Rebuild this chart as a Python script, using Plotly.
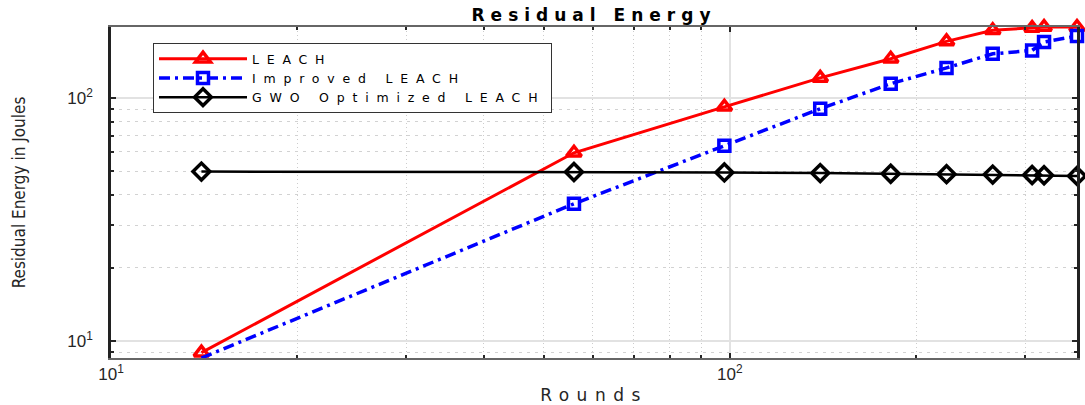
import numpy as np
import plotly.graph_objects as go

# ---- data ----
rounds = [14, 56, 98, 140, 182, 224, 266, 308, 322, 364]
leach = [8.95, 59.5, 92, 121, 145, 171, 190, 194, 196, 196]
improved_leach = [8.51, 36.7, 63.6, 90.3, 114.5, 133, 152, 157, 170, 180]
gwo_leach = [49.8, 49.6, 49.4, 49.1, 48.8, 48.6, 48.4, 48.2, 48.1, 47.8]
series_names = ["LEACH", "Improved LEACH", "GWO Optimized LEACH"]

x_major = [10, 100]
x_major_text = ["10<sup>1</sup>", "10<sup>2</sup>"]
x_minor = [20, 30, 40, 50, 60, 70, 80, 90, 200, 300]
y_major = [10, 100]
y_major_text = ["10<sup>1</sup>", "10<sup>2</sup>"]
y_minor = [9, 20, 30, 40, 50, 60, 70, 80, 90]

title_text = "Residual Energy"
x_title = "Rounds"
y_title = "Residual Energy in Joules"


def spaced(t, px):
    return f"<span style='letter-spacing:{px}px'>{t}</span>"


W, H = 1085, 405
fig = go.Figure()

styles = [
    dict(color="#ff0000", symbol="triangle-up-open", dash="solid", width=3, size=13),
    dict(color="#0000ff", symbol="square-open", dash="11px,5px,3px,5px", width=3.5, size=11),
    dict(color="#000000", symbol="diamond-open", dash="solid", width=2.5, size=13),
]

for name, yv, st in zip(series_names, [leach, improved_leach, gwo_leach], styles):
    fig.add_trace(go.Scatter(
        x=rounds, y=yv, mode="lines+markers", name=spaced(name, 7.8),
        line=dict(color=st["color"], width=st["width"], dash=st["dash"]),
        marker=dict(symbol=st["symbol"], size=st["size"], color=st["color"],
                    line=dict(color=st["color"], width=3.5)),
        cliponaxis=False,
    ))

axis_font = dict(family="Liberation Sans, Arial, sans-serif", size=17, color="#262626")

fig.update_xaxes(
    type="log", range=[np.log10(10), np.log10(364)],
    tickmode="array", tickvals=x_major, ticktext=x_major_text,
    tickfont=axis_font,
    ticks="inside", ticklen=5, tickwidth=1.5, tickcolor="#262626",
    showline=True, linecolor="#666666", linewidth=1.5, mirror="ticks",
    showgrid=True, gridcolor="#e2e2e2", gridwidth=1.5, zeroline=False,
    minor=dict(tickmode="array", tickvals=x_minor, ticks="inside", ticklen=3,
               tickwidth=1.5, tickcolor="#262626", showgrid=True,
               gridcolor="#cccccc", griddash="1px,3px", gridwidth=1),
    title=dict(text=spaced(x_title, 7.5), standoff=6,
               font=dict(family="DejaVu Sans, sans-serif", size=17, color="#262626")),
)

fig.update_yaxes(
    type="log", range=[np.log10(8.51), np.log10(196)],
    tickmode="array", tickvals=y_major, ticktext=y_major_text,
    tickfont=axis_font,
    ticks="inside", ticklen=5, tickwidth=1.5, tickcolor="#262626",
    showline=True, linecolor="#222222", linewidth=2.5, mirror="ticks",
    showgrid=True, gridcolor="#e2e2e2", gridwidth=1.5, zeroline=False,
    ticklabelstandoff=12,
    minor=dict(tickmode="array", tickvals=y_minor, ticks="inside", ticklen=3,
               tickwidth=1.5, tickcolor="#262626", showgrid=True,
               gridcolor="#d2d2d2", griddash="3px,5px", gridwidth=1),
    title=dict(text=y_title, standoff=38,
               font=dict(family="Liberation Sans Narrow, DejaVu Sans Condensed, Liberation Sans, sans-serif",
                         size=17, color="#262626")),
)

fig.update_layout(
    width=W, height=H,
    margin=dict(l=111, r=8, t=27, b=47, autoexpand=False),
    paper_bgcolor="white", plot_bgcolor="white",
    title=dict(text="<b>" + spaced(title_text, 6) + "</b>", x=0.5, xref="paper",
               y=1 - 15 / H, yref="container", xanchor="center", yanchor="middle",
               font=dict(family="DejaVu Sans, sans-serif", size=17, color="#000000")),
    showlegend=True,
    legend=dict(x=(153 - 111) / 966, y=(358 - 43) / 331, xanchor="left", yanchor="top",
                bgcolor="white", bordercolor="#333333", borderwidth=1,
                itemwidth=88, tracegroupgap=0,
                font=dict(family="DejaVu Sans, sans-serif", size=12.5, color="#000000")),
)

fig.write_html("out.html")
